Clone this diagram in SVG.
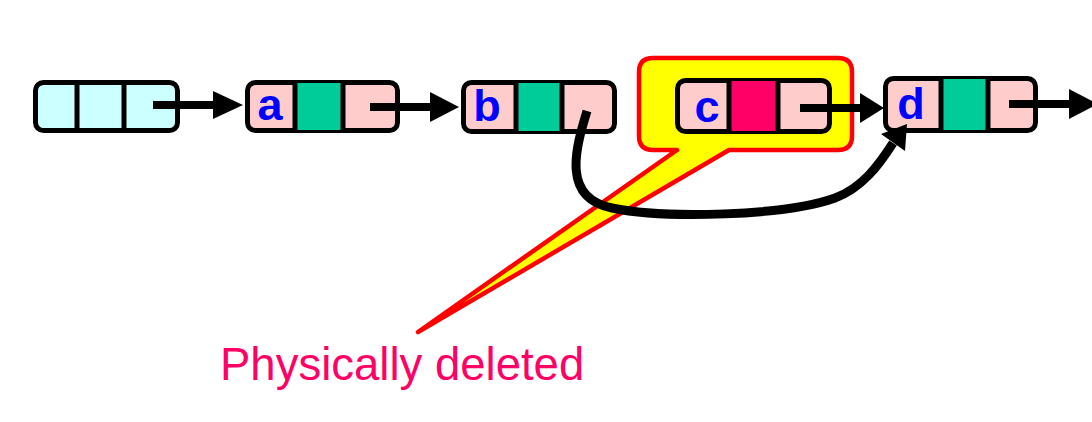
<svg xmlns="http://www.w3.org/2000/svg" width="1092" height="422" viewBox="0 0 1092 422">
<style>
.box{stroke:#000;stroke-width:5;}
.div{stroke:#000;stroke-width:5;}
.cyan{fill:#CCFFFF;}
.pink{fill:#FFCCCC;}
.green{fill:#00CC99;}
.mag{fill:#FF0066;}
.lbl{font-family:"Liberation Sans",Arial,sans-serif;font-weight:bold;font-size:45px;fill:#0000FF;text-anchor:middle;}
.ln{stroke:#000;stroke-width:8;fill:none;}
.hd{fill:#000;}
</style>
<rect width="1092" height="422" fill="#fff"/>
<g id="callout">
<path d="M653 58 H838 Q852 58 852 72 V136 Q852 150 838 150 H729 L418 332 L677 150 H653 Q639 150 639 136 V72 Q639 58 653 58 Z" fill="#FFFF00" stroke="#FF0000" stroke-width="4.5" stroke-linejoin="round"/>
</g>
<g id="node0">
<rect class="box cyan" x="35.5" y="82.5" width="142" height="48" rx="8"/>
<line class="div" x1="77" y1="82" x2="77" y2="131"/>
<line class="div" x1="124" y1="82" x2="124" y2="131"/>
</g>
<g id="nodeA">
<rect class="box pink" x="247.5" y="82.5" width="150" height="48" rx="8"/>
<rect class="green" x="295" y="83" width="48" height="47"/>
<line class="div" x1="295" y1="82" x2="295" y2="131"/>
<line class="div" x1="343" y1="82" x2="343" y2="131"/>
<text class="lbl" x="270" y="120">a</text>
</g>
<g id="nodeB">
<rect class="box pink" x="463.5" y="82.5" width="151" height="49" rx="8"/>
<rect class="green" x="516" y="83" width="46" height="48"/>
<line class="div" x1="516" y1="82" x2="516" y2="132"/>
<line class="div" x1="562" y1="82" x2="562" y2="132"/>
<text class="lbl" x="487" y="121">b</text>
</g>
<g id="nodeC">
<rect class="box pink" x="677.5" y="80.5" width="152" height="51" rx="8"/>
<rect class="mag" x="729" y="81" width="49" height="50"/>
<line class="div" x1="729" y1="80" x2="729" y2="132"/>
<line class="div" x1="778" y1="80" x2="778" y2="132"/>
<text class="lbl" x="707" y="122">c</text>
</g>
<g id="nodeD">
<rect class="box pink" x="885.5" y="78.5" width="150" height="52" rx="8"/>
<rect class="green" x="941" y="79" width="47" height="51"/>
<line class="div" x1="941" y1="78" x2="941" y2="131"/>
<line class="div" x1="988" y1="78" x2="988" y2="131"/>
<text class="lbl" x="911" y="119">d</text>
</g>
<g id="connectors">
<line class="ln" x1="153" y1="105" x2="216" y2="105"/>
<polygon class="hd" points="213,91 243,105 213,119"/>
<line class="ln" x1="370" y1="107" x2="432" y2="107"/>
<polygon class="hd" points="430,92 459,107 430,122"/>
<line class="ln" x1="800" y1="108" x2="862" y2="108"/>
<polygon class="hd" points="860,93 884,108 860,123"/>
<line class="ln" x1="1009" y1="104" x2="1072" y2="104"/>
<polygon class="hd" points="1069,89 1098,104 1069,119"/>
<path class="ln" style="stroke-width:9" d="M587 111 C575 150 562 198 612 208 C665 219 785 216 835 198 C862 188 879 165 893 143"/>
<polygon class="hd" points="907,124 881,134 905,151"/>
</g>
<g id="label">
<text x="220" y="380" font-family="'Liberation Sans',Arial,sans-serif" font-size="45.5" fill="#FF0066">Physically deleted</text>
</g>
</svg>
